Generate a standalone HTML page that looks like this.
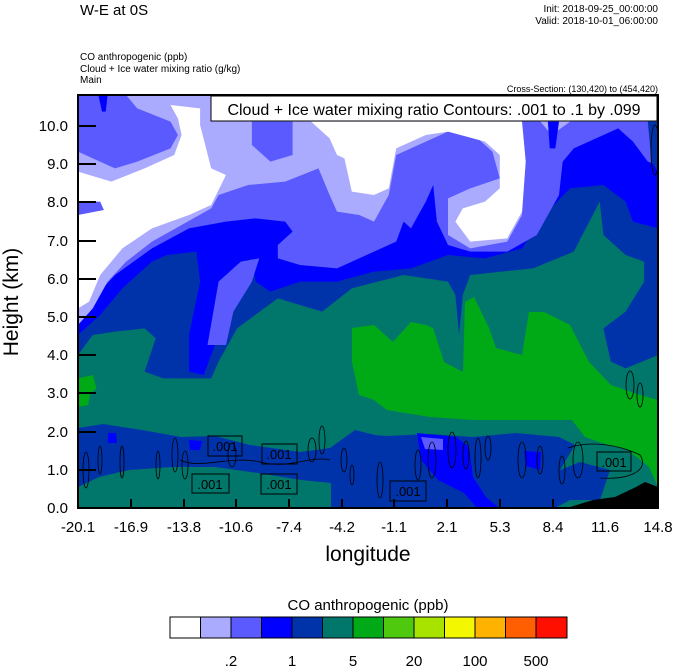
<!DOCTYPE html>
<html><head><meta charset="utf-8"><style>
body{margin:0;background:#fff;width:674px;height:667px;overflow:hidden}
svg{display:block;font-family:"Liberation Sans",sans-serif}
</style></head><body>
<svg width="674" height="667" viewBox="0 0 674 667" xmlns="http://www.w3.org/2000/svg">
<rect width="674" height="667" fill="#fff"/>
<text x="80" y="15" font-size="15">W-E at 0S</text>
<text x="658" y="12" font-size="10" text-anchor="end">Init: 2018-09-25_00:00:00</text>
<text x="658" y="24" font-size="10" text-anchor="end">Valid: 2018-10-01_06:00:00</text>
<text x="80" y="60" font-size="10">CO anthropogenic   (ppb)</text>
<text x="80" y="72" font-size="10">Cloud + Ice water mixing ratio   (g/kg)</text>
<text x="80" y="83" font-size="10">Main</text>
<text x="658" y="92" font-size="9" text-anchor="end">Cross-Section: (130,420) to (454,420)</text>

<clipPath id="c"><rect x="78" y="95" width="580" height="413"/></clipPath>
<g clip-path="url(#c)">
<rect x="78" y="95" width="580" height="413" fill="#00776a"/>
<g transform="translate(78,95) scale(0.37,0.33333)">
<polygon fill="#0033aa" points="0,0 0,780 40,720 100,710 180,700 210,730 180,830 230,850 360,850 380,800 430,700 540,610 660,650 740,580 880,540 1000,560 1020,600 1030,720 1040,600 1060,540 1230,520 1340,470 1410,320 1420,420 1480,480 1530,500 1530,560 1480,650 1420,700 1440,800 1480,820 1568,780 1568,0"/>
<polygon fill="#0000ff" points="0,0 0,720 60,660 120,580 200,500 240,480 320,470 330,560 300,720 300,830 340,840 370,750 380,600 420,520 470,490 480,560 520,590 600,560 700,560 800,530 900,520 1000,480 1100,490 1200,460 1260,360 1330,280 1420,270 1480,320 1500,380 1568,400 1568,0"/>
<polygon fill="#5a5aff" points="350,750 380,560 440,500 490,490 470,560 420,650 400,750"/>
<polygon fill="#5a5aff" points="0,0 0,670 50,600 100,540 200,460 300,400 400,380 480,370 560,380 580,410 540,450 540,490 600,510 700,520 780,480 860,440 880,380 900,400 940,320 960,270 970,380 1000,450 1060,470 1160,470 1240,420 1300,300 1310,200 1340,160 1400,130 1460,100 1500,140 1540,200 1568,210 1568,0"/>
<polygon fill="#aaaaff" points="0,0 0,690 40,640 80,560 130,500 200,440 280,390 360,340 380,300 460,270 560,260 650,220 680,300 700,350 760,360 800,380 840,300 860,180 940,140 1000,110 1080,130 1120,170 1140,250 1060,280 1000,310 1000,420 1060,460 1160,440 1200,360 1210,200 1200,80 1250,80 1280,120 1330,80 1568,80 1568,0"/>
<polygon fill="#ffffff" points="0,230 90,260 180,220 260,180 280,120 270,70 250,30 330,40 330,90 360,220 400,240 360,330 300,360 200,400 120,460 60,540 30,620 0,640"/>
<polygon fill="#ffffff" points="630,80 1200,80 1210,200 1200,350 1160,430 1060,440 1020,380 1040,340 1100,320 1140,280 1140,180 1100,140 1000,110 940,120 860,160 840,280 800,300 740,290 720,190 700,180 680,130"/>
<polygon fill="#5a5aff" points="0,0 130,0 160,40 250,80 270,120 250,160 160,200 100,220 40,190 0,170"/>
<polygon fill="#5a5aff" points="470,80 580,80 580,180 520,200 470,150"/>
<polygon fill="#5a5aff" points="0,320 60,320 70,345 0,360"/>
<polygon fill="#0000ff" points="55,0 80,0 75,50 65,50"/>
<polygon fill="#0000ff" points="1270,80 1300,80 1290,160 1275,160"/>
<polygon fill="#0033aa" points="1540,80 1568,80 1568,230 1550,200"/>
<polygon fill="#00aa17" points="0,850 40,840 50,880 30,900 0,900"/>
</g>
<polygon fill="#00aa17" points="352,328 374,325 393,342 411,322 426,325 433,328 444,362 463,372 465,302 474,297 489,328 496,348 522,355 529,312 544,312 570,325 589,362 611,385 640,395 658,400 658,487 649,467 628,450 602,443 585,437 572,420 516,420 473,420 430,417 387,410 374,400 359,395 352,362"/>
<polygon fill="#00aa17" points="78,395 90,395 88,405 78,407"/>
<polygon fill="#0033aa" points="78,428 103,424 142,430 181,437 215,436 250,445 300,452 330,448 355,430 375,435 387,436 430,434 473,437 516,433 559,437 575,445 560,470 580,462 610,470 600,500 570,500 555,508 331,508 331,483 301,480 258,473 215,467 172,467 129,470 99,477 78,487"/>
<polygon fill="#0000ff" points="417,433 456,437 469,447 473,477 486,497 499,508 477,508 464,493 438,480 421,460"/>
<polygon fill="#0000ff" points="108,433 116,433 117,443 108,443"/>
<polygon fill="#0000ff" points="189,440 202,441 200,450 190,450"/>
<polygon fill="#0000ff" points="524,451 541,452 540,470 526,466"/>
<polygon fill="#5a5aff" points="421,437 443,439 443,450 425,449"/>
<polygon fill="#000" points="567,508 593,500 615,497 636,487 645,482 658,487 658,508"/>
<g fill="none" stroke="#000" stroke-width="0.8">
<ellipse cx="86" cy="470" rx="3" ry="18"/><ellipse cx="100" cy="460" rx="2" ry="14"/>
<ellipse cx="122" cy="462" rx="2" ry="16"/><ellipse cx="158" cy="465" rx="2" ry="14"/>
<ellipse cx="175" cy="455" rx="3" ry="17"/><ellipse cx="185" cy="465" rx="3" ry="14"/>
<ellipse cx="232" cy="455" rx="4" ry="12"/><ellipse cx="312" cy="450" rx="4" ry="12"/>
<ellipse cx="322" cy="440" rx="3" ry="14"/><ellipse cx="344" cy="460" rx="3" ry="12"/>
<ellipse cx="352" cy="475" rx="2" ry="10"/><ellipse cx="380" cy="480" rx="3" ry="18"/>
<ellipse cx="418" cy="465" rx="3" ry="15"/><ellipse cx="432" cy="460" rx="4" ry="18"/>
<ellipse cx="452" cy="450" rx="4" ry="18"/><ellipse cx="466" cy="455" rx="3" ry="14"/>
<ellipse cx="478" cy="458" rx="3" ry="20"/><ellipse cx="488" cy="448" rx="3" ry="12"/>
<ellipse cx="522" cy="460" rx="4" ry="18"/><ellipse cx="540" cy="460" rx="3" ry="14"/>
<ellipse cx="562" cy="470" rx="3" ry="14"/><ellipse cx="578" cy="460" rx="5" ry="18"/>
<ellipse cx="630" cy="385" rx="4" ry="14"/><ellipse cx="640" cy="395" rx="3" ry="12"/>
<ellipse cx="655" cy="150" rx="4" ry="25"/>
<path d="M180,460 C200,470 230,455 260,462 C290,470 310,455 330,460"/>
<path d="M568,448 C590,440 620,445 640,455 C650,470 630,480 600,478"/>
</g>
<g fill="none" stroke="#000" stroke-width="1">
<rect x="208" y="436" width="34" height="20"/><rect x="262" y="444" width="35" height="20"/>
<rect x="192" y="474" width="37" height="19"/><rect x="261" y="474" width="36" height="20"/>
<rect x="390" y="481" width="36" height="20"/><rect x="597" y="452" width="34" height="19"/>
</g>
<g font-size="13" text-anchor="middle" fill="#000">
<text x="225" y="451">.001</text><text x="279" y="459">.001</text>
<text x="210" y="489">.001</text><text x="279" y="489">.001</text>
<text x="408" y="496">.001</text><text x="614" y="467">.001</text>
</g>
</g>
<rect x="78" y="95" width="580" height="413" fill="none" stroke="#000" stroke-width="2"/>
<rect x="211" y="96" width="446" height="25" fill="#fff" stroke="#000" stroke-width="1"/>
<text x="434" y="115" font-size="16" text-anchor="middle">Cloud + Ice water mixing ratio Contours: .001 to .1 by .099</text>
<g stroke="#000" stroke-width="2">
<line x1="78" y1="126" x2="96" y2="126"/><line x1="78" y1="164" x2="96" y2="164"/>
<line x1="78" y1="202" x2="96" y2="202"/><line x1="78" y1="241" x2="96" y2="241"/>
<line x1="78" y1="279" x2="96" y2="279"/><line x1="78" y1="317" x2="96" y2="317"/>
<line x1="78" y1="355" x2="96" y2="355"/><line x1="78" y1="393" x2="96" y2="393"/>
<line x1="78" y1="432" x2="96" y2="432"/><line x1="78" y1="470" x2="96" y2="470"/>
<line x1="131" y1="508" x2="131" y2="499"/><line x1="184" y1="508" x2="184" y2="499"/>
<line x1="236" y1="508" x2="236" y2="499"/><line x1="289" y1="508" x2="289" y2="499"/>
<line x1="342" y1="508" x2="342" y2="499"/><line x1="394" y1="508" x2="394" y2="499"/>
<line x1="447" y1="508" x2="447" y2="499"/><line x1="500" y1="508" x2="500" y2="499"/>
<line x1="553" y1="508" x2="553" y2="499"/><line x1="605" y1="508" x2="605" y2="499"/>
</g>
<g font-size="15" text-anchor="end">
<text x="68" y="131">10.0</text><text x="68" y="169">9.0</text><text x="68" y="207">8.0</text>
<text x="68" y="246">7.0</text><text x="68" y="284">6.0</text><text x="68" y="322">5.0</text>
<text x="68" y="360">4.0</text><text x="68" y="398">3.0</text><text x="68" y="437">2.0</text>
<text x="68" y="475">1.0</text><text x="68" y="513">0.0</text>
</g>
<g font-size="15" text-anchor="middle">
<text x="78" y="532">-20.1</text><text x="131" y="532">-16.9</text><text x="184" y="532">-13.8</text>
<text x="236" y="532">-10.6</text><text x="289" y="532">-7.4</text><text x="342" y="532">-4.2</text>
<text x="394" y="532">-1.1</text><text x="447" y="532">2.1</text><text x="500" y="532">5.3</text>
<text x="553" y="532">8.4</text><text x="605" y="532">11.6</text><text x="658" y="532">14.8</text>
</g>
<text x="368" y="561" font-size="21" text-anchor="middle">longitude</text>
<text transform="translate(18,302) rotate(-90)" font-size="21" text-anchor="middle">Height (km)</text>

<text x="368" y="610" font-size="15" text-anchor="middle">CO anthropogenic  (ppb)</text>
<g stroke="#000" stroke-width="1">
<rect x="170" y="617" width="30.5" height="21" fill="#ffffff"/>
<rect x="200.5" y="617" width="30.5" height="21" fill="#aaaaff"/>
<rect x="231" y="617" width="30.5" height="21" fill="#5a5aff"/>
<rect x="261.5" y="617" width="30.5" height="21" fill="#0000ff"/>
<rect x="292" y="617" width="30.5" height="21" fill="#0033aa"/>
<rect x="322.5" y="617" width="30.5" height="21" fill="#00776a"/>
<rect x="353" y="617" width="30.5" height="21" fill="#00aa17"/>
<rect x="383.5" y="617" width="30.5" height="21" fill="#4ec90e"/>
<rect x="414" y="617" width="30.5" height="21" fill="#a8e300"/>
<rect x="444.5" y="617" width="30.5" height="21" fill="#f3f700"/>
<rect x="475" y="617" width="30.5" height="21" fill="#ffb300"/>
<rect x="505.5" y="617" width="30.5" height="21" fill="#ff5f00"/>
<rect x="536" y="617" width="31" height="21" fill="#ff0f00"/>
</g>
<g font-size="15" text-anchor="middle">
<text x="231" y="666">.2</text><text x="292" y="666">1</text><text x="353" y="666">5</text>
<text x="414" y="666">20</text><text x="475" y="666">100</text><text x="536" y="666">500</text>
</g>
</svg>
</body></html>
